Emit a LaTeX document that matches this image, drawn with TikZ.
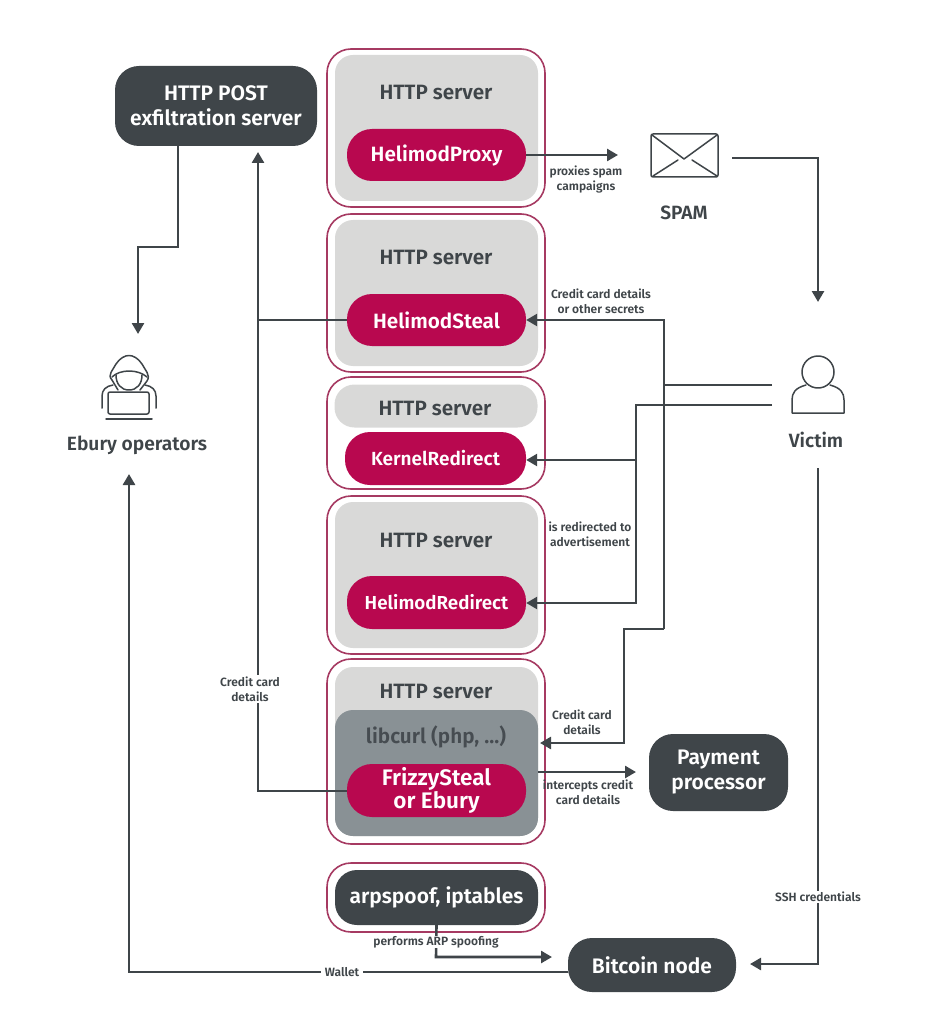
\documentclass[tikz,border=0pt]{standalone}
\usepackage{fontspec}
\setmainfont{Fira Sans}[BoldFont={Fira Sans SemiBold}]
\usetikzlibrary{arrows.meta}
\definecolor{ink}{HTML}{3F4549}
\definecolor{crim}{HTML}{B8084F}
\definecolor{edgec}{HTML}{A63A62}
\definecolor{lgray}{HTML}{D9D9D8}
\definecolor{mgray}{HTML}{899195}
\tikzset{
  x=1pt,y=-1pt,
  outerbox/.style={draw=edgec,line width=1.6pt,rounded corners=24pt,inner sep=0pt},
  innerbox/.style={fill=lgray,rounded corners=18pt,inner sep=0pt},
  midbox/.style={fill=mgray,rounded corners=18pt,inner sep=0pt},
  pill/.style={fill=crim,rounded corners=25pt,text=white,font=\fontsize{20.7}{23}\selectfont\bfseries,align=center,inner sep=0pt},
  darkbox/.style={fill=ink,text=white,font=\fontsize{21}{25}\selectfont\bfseries,align=center,inner sep=0pt},
  head/.style={text=ink,font=\fontsize{20.7}{24}\selectfont\bfseries,inner sep=0pt},
  big/.style={text=ink,font=\fontsize{19.2}{23}\selectfont\bfseries,inner sep=0pt},
  small/.style={text=ink,font=\fontsize{12}{15}\selectfont\bfseries,align=center,inner sep=1.5pt},
  conn/.style={draw=ink,line width=2.6pt},
  arr/.style={conn,-{Triangle[length=11pt,width=12pt]}},
  icon/.style={draw=ink,line width=1.5pt,line join=round,line cap=round},
}
\newcommand{\boxat}[6]{\node[#1,minimum width=#5pt-#3pt,minimum height=#6pt-#4pt] (#2) at ({(#3+#5)/2},{(#4+#6)/2}) {};}
\newcommand{\txtbox}[7]{\node[#1,minimum width=#5pt-#3pt,minimum height=#6pt-#4pt] (#2) at ({(#3+#5)/2},{(#4+#6)/2}) {#7};}
\begin{document}
\begin{tikzpicture}
\useasboundingbox (0,0) rectangle (940,1024);
% servers
\boxat{outerbox}{o1}{327}{49}{545}{207}
\boxat{innerbox}{i1}{335}{55}{538}{201}
\node[head] (h1) at (436,93) {HTTP server};
\txtbox{pill}{proxy}{347}{129}{526}{181}{HelimodProxy}
\boxat{outerbox}{o2}{327}{214}{545}{372}
\boxat{innerbox}{i2}{335}{220}{538}{366}
\node[head] (h2) at (436,258) {HTTP server};
\txtbox{pill}{steal}{347}{294}{526}{346}{HelimodSteal}
\boxat{outerbox}{o3}{327}{377}{545}{489}
\node[innerbox,rounded corners=20pt,minimum width=203pt,minimum height=43pt] (i3) at (436,406) {};
\node[head] (h3) at (435,408) {HTTP server};
\txtbox{pill,font=\fontsize{19}{23}\selectfont\bfseries}{kernel}{345}{432}{526}{485}{KernelRedirect}
\boxat{outerbox}{o4}{327}{496}{545}{654}
\boxat{innerbox}{i4}{335}{502}{538}{648}
\node[head] (h4) at (436,540) {HTTP server};
\txtbox{pill,font=\fontsize{18.8}{23}\selectfont\bfseries}{redirect}{347}{576}{526}{629}{HelimodRedirect}
\boxat{outerbox}{o5}{327}{659}{545}{844}
\boxat{innerbox}{i5}{335}{667}{538}{836}
\node[head] (h5) at (436,691) {HTTP server};
\boxat{midbox}{i5b}{335}{710}{538}{836}
\node[head,text=ink!90!mgray] (lib) at (436,737) {libcurl (php, ...)};
\txtbox{pill,font=\fontsize{22.5}{23}\selectfont\bfseries}{frizzy}{347}{764}{526}{817}{FrizzySteal\\or Ebury}
\boxat{outerbox}{o6}{327}{863}{545}{932}
\txtbox{darkbox,rounded corners=22pt}{arp}{335}{870}{538}{925}{arpspoof, iptables}
% dark boxes
\txtbox{darkbox,rounded corners=24pt}{post}{115}{66}{317}{146}{HTTP POST\\exfiltration server}
\txtbox{darkbox,rounded corners=24pt}{pay}{649}{734}{788}{811}{Payment\\processor}
\txtbox{darkbox,rounded corners=24pt}{btc}{568}{938}{736}{992}{Bitcoin node}
% labels of icons
\node[big] (spam) at (684,213) {SPAM};
\node[big] (victim) at (816,440) {Victim};
\node[big] (ebury) at (137,445) {Ebury operators};
% envelope
\coordinate (envin) at (618,155);
\coordinate (envout) at (732,158);
\draw[icon,rounded corners=2pt] (651,134) rectangle (718,177);
\draw[icon] (652,135) -- (684,159) -- (717,135);
\draw[icon] (653,176) -- (678,160);
\draw[icon] (692,160) -- (717,176);
% victim icon
\coordinate (vtop) at (818,302);
\coordinate (va) at (772,385);
\coordinate (vb) at (772,405);
\coordinate (vout) at (818,468);
\draw[icon] (818,372) circle (16);
\draw[icon] (806,385) .. controls (795,388) and (792,393) .. (792,400) -- (792,413) -- (844,413) -- (844,400) .. controls (844,393) and (841,388) .. (830,385);
% operator icon
\coordinate (opin) at (138,334);
\coordinate (opbelow) at (129,474);
\draw[icon] (112,380) .. controls (107,375) and (113,370) .. (116,364) .. controls (120,358) and (125,355.5) .. (129,355.5) .. controls (133,355.5) and (138,358) .. (142,364) .. controls (145,370) and (151,375) .. (147,381) -- (140,390);
\draw[icon] (112,380) -- (118,390);
\draw[icon] (112,377) .. controls (120,369) and (138,369) .. (147,377);
\draw[icon] (116,375) .. controls (116,384) and (121,390) .. (129,390) .. controls (137,390) and (142,384) .. (142,375);
\draw[icon] (102,408) -- (102,396) .. controls (102,390) and (106,386) .. (113,385);
\draw[icon] (156,408) -- (156,396) .. controls (156,390) and (152,386) .. (145,385);
\draw[icon,rounded corners=2pt] (108,392) rectangle (149,414);
\draw[icon] (106,419) -- (152,419);
% connectors
\draw[arr] (proxy.east) -- (envin);
\draw[arr] (envout) -| (vtop);
\draw[arr] (178,146) -- (178,247) -- (138,247) -- (opin);
\coordinate (upr) at (258,152);
\draw[arr] (frizzy.west |- 0,791) -- (258,791) -- (upr);
\draw[conn] (steal.west) -- (steal.west -| upr);
\node[small,fill=white] (cc) at (250,689) {Credit card\\details};
\coordinate (jn) at (664,385);
\draw[conn] (va) -- (jn);
\draw[arr] (664,629) -- (steal.east -| 664,0) -- (steal.east);
\coordinate (lc) at (540,743);
\draw[arr] (664,629) -- (624,629) -- (624,743) -- (lc);
\draw[arr] (vb) -- (636,405) -- (636,603) -- (redirect.east |- 0,603);
\draw[arr] (636,460) -- (kernel.east |- 0,460);
\coordinate (payin) at (636,772);
\draw[arr] (538,772) -- (payin);
\coordinate (btcin) at (552,957);
\draw[arr] (arp.south) -- (436,957) -- (btcin);
\node[small,fill=white,inner ysep=0.5pt] (arpl) at (436,942) {performs ARP spoofing};
\draw[arr] (btc.west |- 0,972) -- (129,972) -- (opbelow);
\node[small,fill=white,inner xsep=4pt] (wl) at (342,972) {Wallet};
\coordinate (btcr) at (750,964);
\draw[arr] (vout) -- (818,964) -- (btcr);
\node[small,fill=white] (ssh) at (818,897) {SSH credentials};
% text labels
\node[small] (l1) at (586,180) {proxies spam\\campaigns};
\node[small] (l2) at (601,301) {Credit card details\\or other secrets};
\node[small] (l3) at (590,534) {is redirected to\\advertisement};
\node[small] (l4) at (582,722) {Credit card\\details};
\node[small] (l5) at (588,792) {intercepts credit\\card details};
\end{tikzpicture}
\end{document}
